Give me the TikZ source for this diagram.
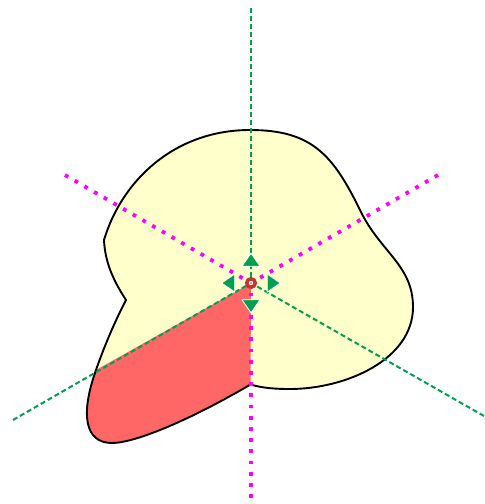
\documentclass[tikz,border=0pt]{standalone}
\usepackage{xcolor}
\usetikzlibrary{shapes.geometric}
\definecolor{lobeyellow}{HTML}{FFFFCC}
\definecolor{lobered}{HTML}{FF6666}
\definecolor{axisgreen}{HTML}{00A050}
\definecolor{axismagenta}{HTML}{FF00FF}
\definecolor{centerred}{HTML}{C83232}
\begin{document}
\begin{tikzpicture}[
  x=1pt, y=-1pt,
  gaxis/.style={draw=axisgreen, line width=2pt, dash pattern=on 5pt off 3pt},
  maxis/.style={draw=axismagenta, line width=3.8pt, dash pattern=on 3.8pt off 7.4pt},
  marker/.style={draw=white, fill=axisgreen, line width=0.8pt, isosceles triangle, isosceles triangle stretches, inner sep=0pt, minimum width=18pt, minimum height=13pt}
]
\useasboundingbox (0,0) rectangle (485,504);
\coordinate (o) at (251,283);
\coordinate (corner) at (104,240);
\coordinate (notch) at (126,300);
\coordinate (top) at (250,130);
\coordinate (flank) at (360,210);
\coordinate (right) at (413,307);
\coordinate (belly) at (290,389);
\coordinate (bottom) at (250.5,384.5);
\coordinate (hit) at (96,370);

\fill[lobeyellow] (corner) .. controls (122,180) and (175,130) .. (top)
  .. controls (312,130) and (333,155) .. (flank)
  .. controls (380,252) and (413,265) .. (right)
  .. controls (413,360) and (345,389) .. (belly)
  .. controls (275,389) and (262,388) .. (bottom)
  .. controls (190,420) and (135,443) .. (112,443)
  .. controls (85,443) and (80,415) .. (hit)
  .. controls (103,350) and (113,325) .. (notch)
  .. controls (113,280) and (105,262) .. (corner) -- cycle;
\fill[lobered] (o) -- (bottom)
  .. controls (190,420) and (135,443) .. (112,443)
  .. controls (85,443) and (80,415) .. (hit) -- cycle;
\draw[line width=1.9pt, line join=round] (corner) .. controls (122,180) and (175,130) .. (top)
  .. controls (312,130) and (333,155) .. (flank)
  .. controls (380,252) and (413,265) .. (right)
  .. controls (413,360) and (345,389) .. (belly)
  .. controls (275,389) and (262,388) .. (bottom)
  .. controls (190,420) and (135,443) .. (112,443)
  .. controls (85,443) and (80,415) .. (hit)
  .. controls (103,350) and (113,325) .. (notch)
  .. controls (113,280) and (105,262) .. (corner) -- cycle;

\coordinate (gtop) at (251,8);
\coordinate (gleft) at (13,420);
\coordinate (gright) at (484,416);
\coordinate (mleft) at (65,175);
\coordinate (mright) at (438,175);
\coordinate (mdown) at (251,498);
\draw[gaxis] (gtop) -- (o);
\draw[gaxis] (gleft) -- (o);
\draw[gaxis] (gright) -- (o);
\draw[maxis] (mleft) -- (o);
\draw[maxis] (mright) -- (o);
\draw[maxis] (mdown) -- (o);

\node[marker, rotate=90] (up) at (251,261.5) {};
\node[marker, rotate=-90] (down) at (251,304.5) {};
\node[marker, rotate=180] (west) at (230,283) {};
\node[marker] (east) at (272,283) {};
\node[circle, draw=centerred, fill=white, line width=3.5pt, inner sep=0pt, minimum size=8.5pt] (center) at (o) {};
\node[circle, fill=gray, inner sep=0pt, minimum size=2pt] (dot) at (o) {};
\end{tikzpicture}
\end{document}
